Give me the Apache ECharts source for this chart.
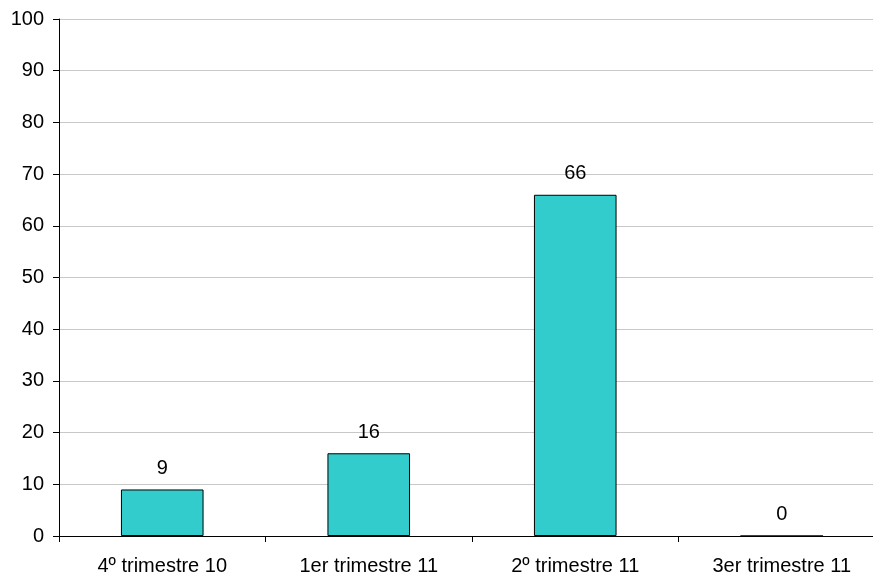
<!DOCTYPE html>
<html><head><meta charset="utf-8">
<script src="https://cdn.jsdelivr.net/npm/echarts@6/dist/echarts.min.js"></script>
<style>html,body{margin:0;padding:0;background:#fff;overflow:hidden}#c{width:885px;height:579px}</style>
</head><body><div id="c"></div>
<script>
const categories = ["4º trimestre 10", "1er trimestre 11", "2º trimestre 11", "3er trimestre 11"];
const values = [9, 16, 66, 0];
const yTicks = [0, 10, 20, 30, 40, 50, 60, 70, 80, 90, 100];

const chart = echarts.init(document.getElementById('c'));
chart.setOption({
  animation: false,
  textStyle: { fontFamily: 'Liberation Sans, Arial, sans-serif' },
  grid: { left: 59, right: 0, top: 19, bottom: 43, containLabel: false },
  xAxis: {
    type: 'category', data: categories,
    axisLine: { lineStyle: { color: '#000', width: 1 } },
    axisTick: { show: true, length: 6, alignWithLabel: false, lineStyle: { color: '#000' } },
    axisLabel: { color: '#000', fontSize: 20, margin: 20 }
  },
  yAxis: {
    type: 'value', min: yTicks[0], max: yTicks[yTicks.length - 1], interval: 10,
    axisLine: { show: true, lineStyle: { color: '#000', width: 1 } },
    axisTick: { show: true, length: 6, lineStyle: { color: '#000' } },
    axisLabel: { color: '#000', fontSize: 20, margin: 15 },
    splitLine: { lineStyle: { color: '#c8c8c8', width: 1 } }
  },
  series: [{
    type: 'bar', data: values, barWidth: '40%',
    itemStyle: { color: '#33CCCC', borderColor: '#000', borderWidth: 1 },
    label: { show: true, position: 'top', distance: 11, color: '#000', fontSize: 20 }
  }]
});
</script></body></html>
